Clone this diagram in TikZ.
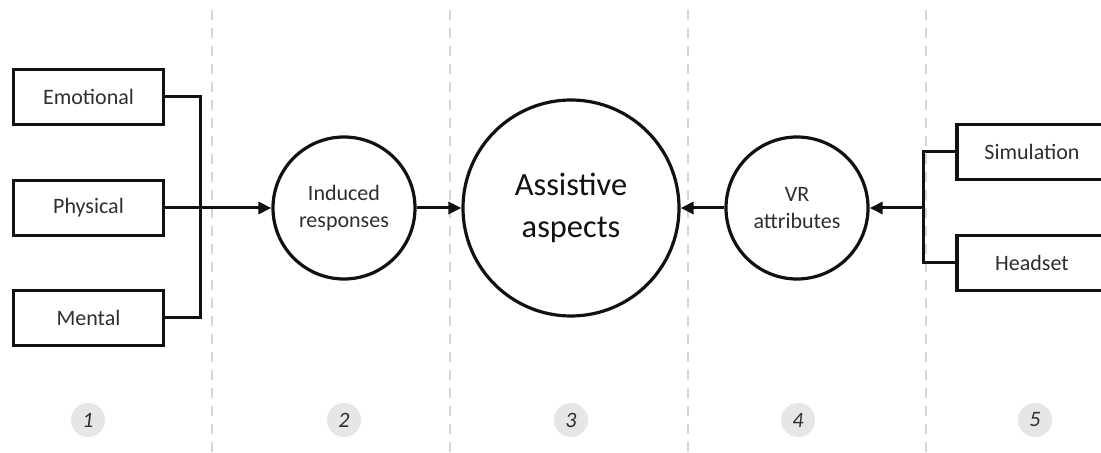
\documentclass[tikz,border=0pt]{standalone}
\usepackage{fontspec}
\setmainfont{Carlito}
\usetikzlibrary{arrows.meta}
\definecolor{ink}{HTML}{111111}
\definecolor{txt}{HTML}{2E2E2E}
\definecolor{rule}{HTML}{D6D6D6}
\definecolor{badge}{HTML}{E6E6E6}

\begin{document}
\begin{tikzpicture}[x=0.5pt,y=-0.5pt,>={Triangle[length=6.5pt,width=6pt]},
  box/.style={draw=ink,line width=1.9pt,minimum width=75pt,minimum height=27.5pt,
    inner sep=0pt,text=txt,font=\fontsize{11}{13}\selectfont},
  bubble/.style={circle,draw=ink,fill=white,line width=1.6pt,minimum size=71pt,
    inner sep=0pt,align=center,text=txt,font=\fontsize{11}{13.5}\selectfont},
  bigbubble/.style={bubble,minimum size=108pt,text=ink,font=\fontsize{16.2}{21}\selectfont},
  wire/.style={draw=ink,line width=1.5pt},
  stepno/.style={circle,fill=badge,minimum size=17pt,inner sep=0pt,text=txt,
    font=\fontsize{11}{12}\itshape}]
  \useasboundingbox (0,0) rectangle (1101,453);
  % column separators
  \foreach \x in {212,450,688,926}
    \draw[rule,line width=1pt,dash pattern=on 5pt off 4pt] (\x,10)--(\x,453);

  % left group
  \node[box] (emo) at (88.5,97) {Emotional};
  \node[box] (phy) at (88.5,208) {Physical};
  \node[box] (men) at (88.5,318) {Mental};
  \coordinate (lj) at (200,208);

  % circles
  \node[bubble] (ind) at (344,208) {Induced\\responses};
  \node[bigbubble] (asp) at (571,208) {Assistive\\aspects};
  \node[bubble] (vr) at (797,208) {VR\\attributes};

  % right group
  \node[box] (sim) at (1032,152) {Simulation};
  \node[box] (hea) at (1032,263) {Headset};
  \coordinate (rj) at (923,208);

  \draw[wire] (emo.east) -| (lj) |- (men.east);
  \draw[wire,->] (phy.east) -- (ind.west);
  \draw[wire,->] (ind.east) -- (asp.west);
  \draw[wire,->] (vr.west) -- (asp.east);
  \draw[wire] (sim.west) -| (rj) |- (hea.west);
  \draw[wire,->] (rj) -- (vr.east);

  % stage numbers
  \foreach \x/\n in {88/1,344/2,571/3,798/4,1035/5}
    \node[stepno] (s\n) at (\x,420) {\n};
\end{tikzpicture}
\end{document}
